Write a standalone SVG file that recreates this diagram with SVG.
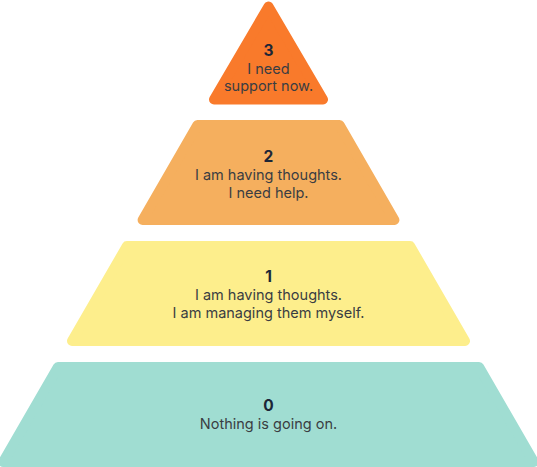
<svg xmlns="http://www.w3.org/2000/svg" width="537" height="467" viewBox="0 0 537 467">
  <style>
    .tier { stroke-width: 10; stroke-linejoin: round; }
    .num { font-family: Inter, "Open Sans", "Liberation Sans", sans-serif; font-size: 15.5px; font-weight: 700; fill: #1c2637; text-anchor: middle; }
    .txt { font-family: Inter, "Open Sans", "Liberation Sans", sans-serif; font-size: 14.5px; font-weight: 400; fill: #3a3d42; text-anchor: middle; }
  </style>
  <rect width="537" height="467" fill="#ffffff"/>
  <g id="level-0">
    <polygon class="tier" fill="#a0ddd2" stroke="#a0ddd2" points="57.9,367 479.1,367 533.9,462 3.1,462"/>
    <text class="num" x="268.5" y="411">0</text>
    <text class="txt" x="268.5" y="429">Nothing is going on.</text>
  </g>
  <g id="level-1">
    <polygon class="tier" fill="#fdee8c" stroke="#fdee8c" points="126.9,246 410.1,246 465,341 72,341"/>
    <text class="num" x="268.5" y="282">1</text>
    <text class="txt" x="268.5" y="300">I am having thoughts.</text>
    <text class="txt" x="268.5" y="318">I am managing them myself.</text>
  </g>
  <g id="level-2">
    <polygon class="tier" fill="#f5af5e" stroke="#f5af5e" points="197.4,125 339.6,125 394.4,220 142.6,220"/>
    <text class="num" x="268.5" y="162">2</text>
    <text class="txt" x="268.5" y="180">I am having thoughts.</text>
    <text class="txt" x="268.5" y="198">I need help.</text>
  </g>
  <g id="level-3">
    <polygon class="tier" fill="#f97a2b" stroke="#f97a2b" points="268.5,6.5 323,99.5 214,99.5"/>
    <text class="num" x="268.5" y="56">3</text>
    <text class="txt" x="268.5" y="74">I need</text>
    <text class="txt" x="268.5" y="91">support now.</text>
  </g>
  <g id="connectors"/>
</svg>
